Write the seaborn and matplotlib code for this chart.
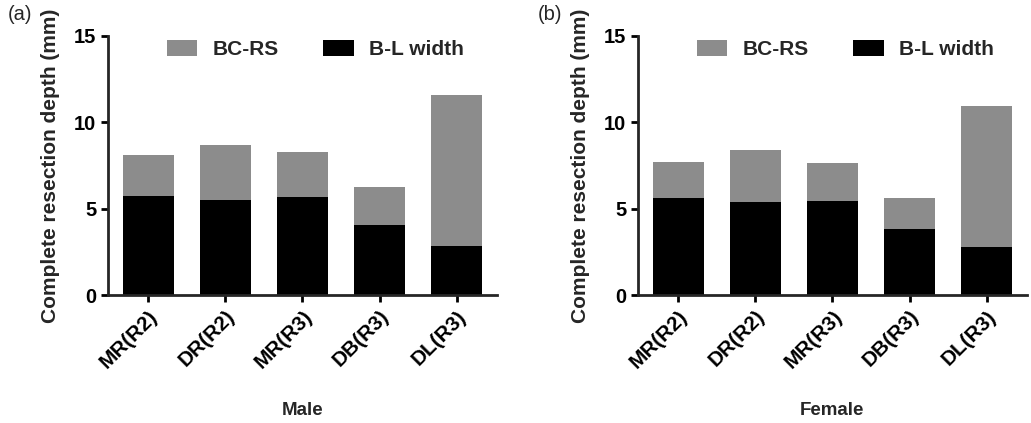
import matplotlib
matplotlib.use("Agg")
import matplotlib.pyplot as plt
import pandas as pd
import seaborn as sns
from matplotlib.patches import Patch

categories = ["MR(R2)", "DR(R2)", "MR(R3)", "DB(R3)", "DL(R3)"]

# total height (B-L width + BC-RS) and B-L width part
male_total = [8.1, 8.7, 8.3, 6.25, 11.6]
male_bl = [5.75, 5.5, 5.65, 4.05, 2.85]
female_total = [7.72, 8.4, 7.62, 5.6, 10.95]
female_bl = [5.62, 5.38, 5.45, 3.84, 2.78]

panels = ["(a)", "(b)"]
groups = ["Male", "Female"]

sns.set_style("ticks")
plt.rcParams["font.family"] = ["Liberation Sans", "DejaVu Sans"]
plt.rcParams["font.weight"] = "bold"

gray = "#8c8c8c"

fig = plt.figure(figsize=(10.31, 4.23), dpi=100)
ax_a = fig.add_axes([0.1048, 0.3026, 0.3772, 0.6124])
ax_b = fig.add_axes([0.6188, 0.3026, 0.3772, 0.6124])

data = [(male_total, male_bl), (female_total, female_bl)]
for ax, (tot, bl), panel, group in zip([ax_a, ax_b], data, panels, groups):
    df = pd.DataFrame({"cat": categories, "total": tot, "bl": bl})
    sns.barplot(data=df, x="cat", y="total", color=gray, width=0.66,
                saturation=1, ax=ax, edgecolor="none")
    sns.barplot(data=df, x="cat", y="bl", color="black", width=0.66,
                saturation=1, ax=ax, edgecolor="none")
    ax.set_xlim(-0.52, 4.52)
    ax.set_ylim(0, 15)
    ax.set_yticks([0, 5, 10, 15])
    for s in ["top", "right"]:
        ax.spines[s].set_visible(False)
    for s in ["left", "bottom"]:
        ax.spines[s].set_linewidth(2)
    ax.tick_params(axis="both", width=2, length=5, direction="out", colors="black")
    ax.tick_params(axis="y", labelsize=14.5)
    ax.tick_params(axis="x", labelsize=15)
    for lab in ax.get_xticklabels():
        lab.set_rotation(45)
        lab.set_ha("right")
        lab.set_rotation_mode("anchor")
        lab.set_fontweight("bold")
    for lab in ax.get_yticklabels():
        lab.set_fontweight("bold")
    ax.set_ylabel("Complete resection depth (mm)", fontsize=15, fontweight="bold", labelpad=10)
    ax.set_xlabel(group, fontsize=13.5, fontweight="bold", labelpad=22)
    ax.text(-0.258, 1.083, panel, transform=ax.transAxes, fontsize=14.5, fontweight="normal",
            ha="left", va="center")
    handles = [Patch(facecolor=gray, edgecolor="none", label="BC-RS"),
               Patch(facecolor="black", edgecolor="none", label="B-L width")]
    ax.legend(handles=handles, loc="upper left", bbox_to_anchor=(0.152, 0.985), ncol=2,
              frameon=False, handlelength=1.45, handleheight=0.8, borderpad=0,
              borderaxespad=0, columnspacing=2.15, handletextpad=0.72,
              prop={"weight": "bold", "size": 15})

fig.savefig("out.png", dpi=100)
